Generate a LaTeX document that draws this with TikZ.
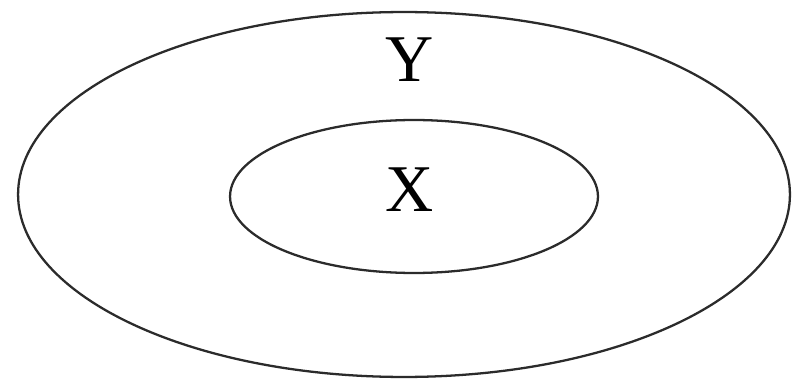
\documentclass[tikz,border=0pt]{standalone}
\usepackage{fontspec}
\setmainfont{Liberation Serif}
\usepackage{tikz}
\usetikzlibrary{shapes.geometric}
\definecolor{linec}{HTML}{2B2B2B}
\tikzset{
  ring/.style={ellipse,draw=linec,line width=1.3pt,inner sep=0pt},
  lbl/.style={font=\fontsize{38}{38}\selectfont,text=black,inner sep=0pt}
}
\begin{document}
\begin{tikzpicture}[x=0.02cm,y=0.02cm]
\useasboundingbox (0,0) rectangle (800,389);
% outer and inner sets
\node[ring,minimum width=15.44cm,minimum height=7.3cm] (outer) at (404,194.5) {};
\node[ring,minimum width=7.36cm,minimum height=3.06cm] (inner) at (414,192.5) {};
\node[lbl] (lblY) at (410,329) {Y};
\node[lbl] (lblX) at (410,199) {X};
\end{tikzpicture}
\end{document}
